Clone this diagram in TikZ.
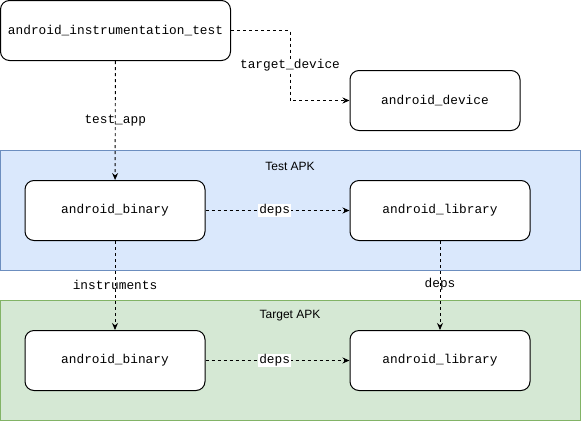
\documentclass[tikz,border=0pt]{standalone}
\usepackage{fontspec}
\setmainfont{Liberation Sans}
\setsansfont{Liberation Sans}
\setmonofont{Liberation Mono}
\usetikzlibrary{ arrows.meta, % For the arrow tips
                 positioning, % For easy node-relative placements
               }
\definecolor{testfill}{HTML}{DAE8FC}
\definecolor{testline}{HTML}{6C8EBF}
\definecolor{targetfill}{HTML}{D5E8D4}
\definecolor{targetline}{HTML}{82B366}
\tikzset{
  rule/.style={draw, line width=1pt, rounded corners=9pt, fill=white, minimum width=180pt,
               minimum height=60pt, font=\fontsize{12.8}{15}\ttfamily},
  link/.style={draw, line width=0.9pt, dash pattern=on 3pt off 3pt,
               -{Stealth[length=7pt,width=6pt]}},
  lbl/.style={fill=white, inner sep=1pt, font=\fontsize{12.8}{15}\ttfamily},
  apk/.style={draw, line width=1pt, minimum width=580pt, minimum height=120pt, inner sep=0pt},
  title/.style={font=\fontsize{12}{14}\sffamily},
}
\begin{document}
\begin{tikzpicture}[x=1pt, y=-1pt]
  \useasboundingbox (0,0) rectangle (581,421);

  % containers
  \node[apk, fill=testfill, draw=testline] (test_apk) at (290.5,210) {};
  \node[apk, fill=targetfill, draw=targetline] (target_apk) at (290.5,360) {};
  \node[title] (test_title) at (290,166) {Test APK};
  \node[title] (target_title) at (290,316) {Target APK};

  % rules
  \node[rule, minimum width=230pt] (instr_test) at (115.5,30.5) {android\_instrumentation\_test};
  \node[rule, minimum width=170pt] (device) at (435,100.5) {android\_device};
  \node[rule] (test_bin) at (115,210.5) {android\_binary};
  \node[rule] (test_lib) at (440,210.5) {android\_library};
  \node[rule] (target_bin) at (115,360.5) {android\_binary};
  \node[rule] (target_lib) at (440,360.5) {android\_library};

  \coordinate (turn) at (290,30.5);

  \draw[link] (instr_test) -- node[lbl, fill=none] {test\_app} (test_bin);
  \draw[link] (instr_test.east) -- (turn) |- node[lbl, pos=0.25] {target\_device} (device.west);
  \draw[link] (test_bin) -- node[lbl, pos=0.48] {deps} (test_lib);
  \draw[link] (test_bin) -- node[lbl, fill=none, yshift=1pt] {instruments} (target_bin);
  \draw[link] (test_lib) -- node[lbl, fill=none, yshift=1pt] {deps} (target_lib);
  \draw[link] (target_bin) -- node[lbl, pos=0.48] {deps} (target_lib);
\end{tikzpicture}
\end{document}
